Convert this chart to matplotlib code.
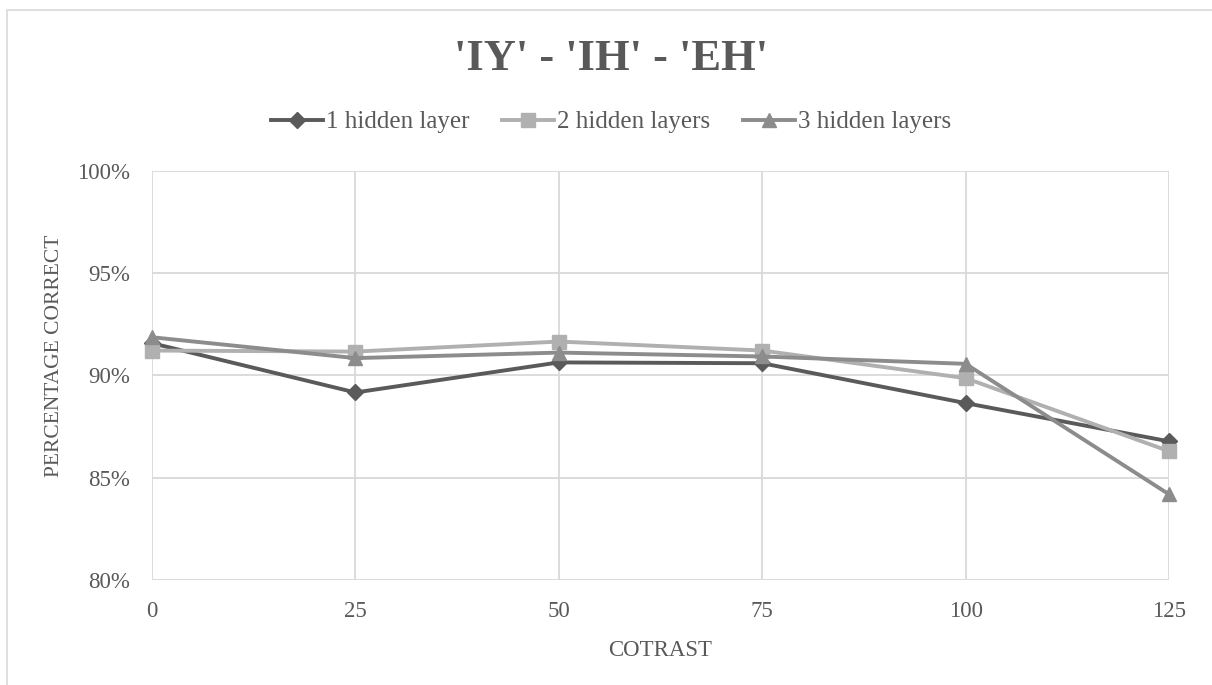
import numpy as np
from matplotlib import pyplot as plt
from matplotlib.patches import Rectangle
from matplotlib.ticker import PercentFormatter

# data
contrast = [0, 25, 50, 75, 100, 125]
one_layer = [91.58, 89.17, 90.64, 90.60, 88.65, 86.78]
two_layers = [91.22, 91.17, 91.66, 91.22, 89.87, 86.30]
three_layers = [91.87, 90.85, 91.12, 90.93, 90.57, 84.19]

series_names = ["1 hidden layer", "2 hidden layers", "3 hidden layers"]
series_colors = ["#5a5a5a", "#b0b0b0", "#8c8c8c"]
series_markers = ["D", "s", "^"]
marker_sizes = [8, 10, 10.5]

plt.rcParams['font.family'] = ['Liberation Serif', 'DejaVu Serif']
text_color = "#595959"

fig = plt.figure(figsize=(12.12, 6.85), dpi=100)
ax = fig.add_axes([152/1212, 1 - 580/685, (1169 - 152)/1212, 409/685])

# chart border like the excel chart frame
fig.patches.append(Rectangle((7/1212, -0.1), 1.2, 1 - 10/685 + 0.1,
                             transform=fig.transFigure, fill=False,
                             edgecolor="#d9d9d9", linewidth=1.2))

for vals, name, col, mk, ms in zip([one_layer, two_layers, three_layers],
                                   series_names, series_colors,
                                   series_markers, marker_sizes):
    ax.plot(contrast, vals, color=col, marker=mk, markersize=ms,
            linewidth=2.8, label=name, clip_on=False, zorder=3)

ax.set_xlim(0, 125)
ax.set_ylim(80, 100)
ax.set_xticks(contrast)
ax.set_yticks([80, 85, 90, 95, 100])
ax.yaxis.set_major_formatter(PercentFormatter(decimals=0))
ax.grid(True, color="#d9d9d9", linewidth=1.3)
ax.set_axisbelow(True)
for s in ax.spines.values():
    s.set_visible(False)
ax.tick_params(length=0, labelsize=16.5, colors=text_color, pad=16)
ax.tick_params(axis="x", pad=15)

ax.set_xlabel("COTRAST", fontsize=16.5, color=text_color, labelpad=13)
ax.set_ylabel("PERCENTAGE CORRECT", fontsize=15.5, color=text_color,
              va="center")
ax.yaxis.set_label_coords((55 - 152)/1017, (580 - 356)/409)

fig.text(0.5 + 5/1212, 1 - 70/685, "'IY' - 'IH' - 'EH'", ha="center", va="baseline",
         fontsize=32, fontweight="bold", color=text_color)

fig.legend(loc="center", bbox_to_anchor=(0.504, 1 - 122/685), ncol=3,
           frameon=False, fontsize=18, labelcolor=text_color,
           handlelength=2.1, handletextpad=0.1, columnspacing=1.3)

plt.savefig("out.png")
